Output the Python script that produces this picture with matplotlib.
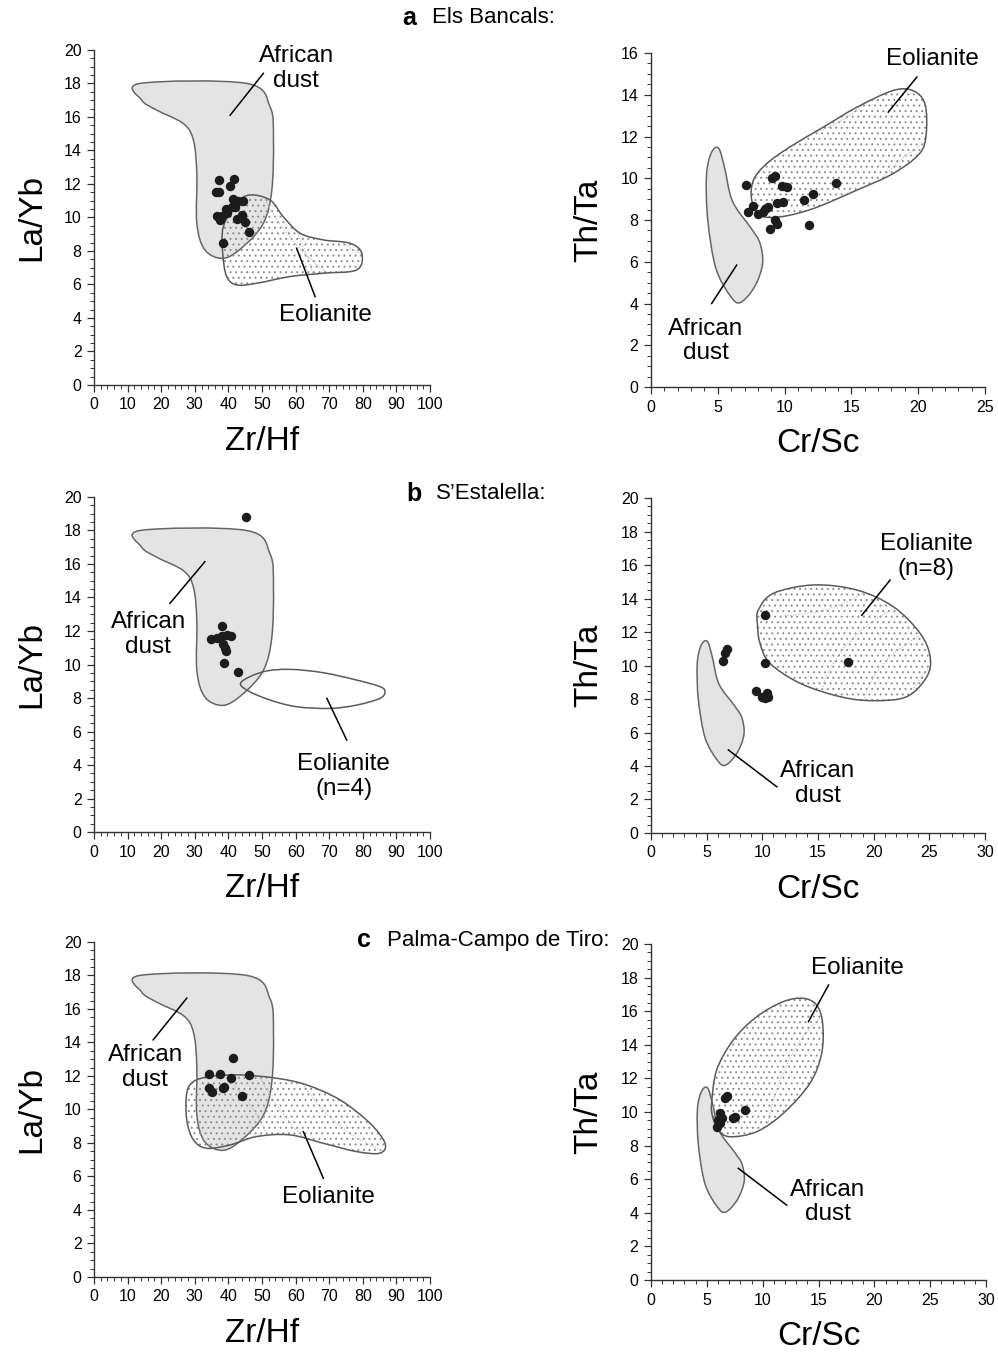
import numpy as np
import matplotlib
matplotlib.use("Agg")
import matplotlib.pyplot as plt
from matplotlib.path import Path
from matplotlib.patches import PathPatch, Arc
from matplotlib.ticker import MultipleLocator

plt.rcParams['font.family'] = ['Liberation Sans', 'DejaVu Sans']
plt.rcParams['hatch.linewidth'] = 0.7

# --- samples -------------------------------------------------------------
# (a) Els Bancals
a_zrhf = [37.3, 41.8, 40.5, 36.3, 37.3, 41.5, 42.9, 44.3, 39.3, 41.0, 42.0,
          36.7, 38.0, 39.5, 37.5, 42.5, 44.0, 44.9, 46.1, 38.5]
a_layb = [12.24, 12.3, 11.9, 11.5, 11.5, 11.1, 11.0, 10.97, 10.5, 10.6, 10.6,
          10.1, 10.1, 10.25, 9.85, 9.9, 10.15, 9.7, 9.15, 8.46]
a_crsc = [7.09, 9.03, 9.28, 9.78, 10.16, 13.85, 12.15, 11.47, 9.41, 9.9,
          7.66, 7.28, 8.03, 8.41, 8.78, 8.53, 9.28, 9.45, 8.9, 11.85]
a_thta = [9.67, 9.99, 10.1, 9.63, 9.58, 9.75, 9.27, 8.95, 8.82, 8.87,
          8.67, 8.39, 8.31, 8.39, 8.6, 8.52, 8.02, 7.83, 7.55, 7.78]

# (b) S'Estalella
b_zrhf = [38.0, 34.7, 36.5, 38.0, 39.5, 40.7, 38.5, 39.0, 39.3, 38.8, 42.9, 45.2]
b_layb = [12.3, 11.5, 11.6, 11.7, 11.74, 11.7, 11.2, 10.97, 10.8, 10.07, 9.57, 18.8]
b_crsc = [10.24, 6.8, 6.65, 6.44, 10.24, 17.73, 9.43, 9.95, 10.45, 10.24, 10.54]
b_thta = [13.0, 10.97, 10.76, 10.29, 10.17, 10.23, 8.5, 8.14, 8.38, 8.04, 8.14]

# (c) Palma-Campo de Tiro
c_zrhf = [41.3, 34.2, 37.5, 40.7, 46.2, 34.2, 35.0, 38.5, 38.8, 44.0]
c_layb = [13.06, 12.1, 12.12, 11.9, 12.08, 11.27, 11.06, 11.27, 11.36, 10.8]
c_crsc = [6.62, 6.83, 8.42, 7.31, 7.52, 6.18, 6.03, 6.18, 5.94, 6.33]
c_thta = [10.82, 10.95, 10.12, 9.62, 9.72, 9.92, 9.52, 9.33, 9.12, 9.62]

# --- reference fields (outline vertices) -------------------------------
dust_zrhf_x = [13.7, 45.4, 52.4, 53.4, 52.9, 50.4, 44.4, 38.5, 33.0, 30.6,
               30.6, 29.6, 26.6, 18.7, 14.2]
dust_zrhf_y = [18.0, 18.0, 16.6, 14.6, 11.6, 9.65, 8.26, 7.56, 8.06, 9.65,
               12.6, 14.6, 15.6, 16.4, 17.0]

dust_crsc_x = [5.05, 5.5, 6.1, 7.5, 8.15, 8.35, 7.75, 6.7, 5.95, 4.85, 4.25,
               4.15, 4.5]
dust_crsc_y = [11.45, 10.53, 8.9, 7.6, 6.9, 5.9, 4.8, 4.05, 4.35, 5.7, 8.0,
               10.1, 11.2]

eol_a_zrhf_x = [38.5, 42.5, 46.4, 52.4, 56.3, 61.3, 68.2, 76.2, 79.7, 78.2,
                68.2, 58.3, 48.4, 42.5, 39.5, 38.3]
eol_a_zrhf_y = [9.45, 10.85, 11.34, 11.04, 10.05, 9.06, 8.66, 8.46, 7.86, 6.87,
                6.67, 6.47, 6.07, 5.97, 6.47, 7.86]

eol_a_crsc_x = [7.54, 7.66, 8.66, 10.4, 12.9, 15.4, 18.1, 19.6, 20.5, 20.6,
                20.1, 18.1, 15.4, 12.15, 9.66, 8.16]
eol_a_crsc_y = [8.95, 9.9, 10.7, 11.5, 12.45, 13.4, 14.2, 14.2, 13.57, 12.14,
                11.18, 10.22, 9.43, 8.55, 8.15, 8.23]

eol_b_zrhf_x = [43.9, 50.4, 58.3, 68.2, 78.2, 85.1, 86.6, 85.1, 78.2, 70.2,
                60.3, 52.4, 45.4]
eol_b_zrhf_y = [8.97, 9.57, 9.71, 9.51, 9.07, 8.68, 8.38, 7.98, 7.58, 7.38,
                7.48, 7.88, 8.48]

eol_b_crsc_x = [9.64, 10.99, 14.58, 18.48, 21.77, 24.17, 25.07, 24.77, 22.97,
                19.97, 16.98, 13.39, 10.69, 9.79, 9.55]
eol_b_crsc_y = [13.31, 14.31, 14.81, 14.51, 13.51, 11.92, 10.53, 9.33, 8.14,
                7.9, 8.14, 8.94, 10.13, 11.33, 12.52]

eol_c_zrhf_x = [27.6, 29.6, 34.5, 43.5, 54.4, 63.3, 73.2, 82.1, 86.6, 85.1,
                78.2, 68.2, 58.3, 48.4, 40.5, 33.5, 29.6, 27.6]
eol_c_zrhf_y = [10.97, 11.66, 11.96, 12.06, 11.86, 11.46, 10.57, 9.18, 7.98,
                7.39, 7.48, 7.98, 8.48, 8.38, 7.88, 7.68, 8.18, 9.37]

eol_c_crsc_x = [5.43, 5.88, 7.37, 9.46, 11.84, 13.63, 14.83, 15.37, 15.28,
                14.23, 11.84, 9.46, 7.07, 6.03, 5.52]
eol_c_crsc_y = [10.52, 12.5, 14.29, 15.67, 16.57, 16.77, 16.37, 15.28, 13.49,
                11.71, 9.92, 8.83, 8.53, 8.93, 9.72]


def smooth_path(xs, ys):
    # closed Catmull-Rom outline expressed as cubic Bezier segments
    p = np.column_stack([xs, ys])
    n = len(p)
    verts = [p[0]]
    codes = [Path.MOVETO]
    for i in range(n):
        p0, p1, p2, p3 = p[i - 1], p[i], p[(i + 1) % n], p[(i + 2) % n]
        verts += [p1 + (p2 - p0) / 6.0, p2 - (p3 - p1) / 6.0, p2]
        codes += [Path.CURVE4] * 3
    return Path(verts, codes)


def dust_field(ax, xs, ys):
    ax.add_patch(PathPatch(smooth_path(xs, ys), facecolor='#e4e4e4',
                           edgecolor='#666666', lw=1.1, zorder=1))


def eolianite_field(ax, xs, ys, stipple=True, arcs=()):
    path = smooth_path(xs, ys)
    if stipple:
        dots = PathPatch(path, facecolor='none', edgecolor='#8c8c8c',
                         hatch='...', lw=0, zorder=2)
        ax.add_patch(dots)
        for cx, cy, w, h, t1, t2 in arcs:
            arc = Arc((cx, cy), w, h, theta1=t1, theta2=t2, color='#b4b4b4',
                      lw=0.8, ls=(0, (1, 1.5)), zorder=2)
            ax.add_patch(arc)
            arc.set_clip_path(dots)
    ax.add_patch(PathPatch(path, facecolor='none', edgecolor='#5a5a5a',
                           lw=1.1, zorder=3))


def samples(ax, x, y):
    ax.plot(x, y, 'o', color='#1c1c1c', ms=6.8, mec='none', zorder=5)


def label(ax, text, pos, leader):
    ax.text(pos[0], pos[1], text, ha='center', va='center', fontsize=17.5,
            linespacing=1.15, zorder=6)
    ax.plot(leader[0], leader[1], color='black', lw=1.1, zorder=6)


def style(ax, xmax, xstep, ymax, xlab, ylab):
    ax.set_xlim(0, xmax)
    ax.set_ylim(0, ymax)
    for s in ('top', 'right'):
        ax.spines[s].set_visible(False)
    for s in ('left', 'bottom'):
        ax.spines[s].set_linewidth(1.0)
        ax.spines[s].set_color('#333333')
    ax.xaxis.set_major_locator(MultipleLocator(xstep))
    ax.xaxis.set_minor_locator(MultipleLocator(xstep / 5))
    ax.yaxis.set_major_locator(MultipleLocator(2))
    ax.yaxis.set_minor_locator(MultipleLocator(0.5))
    ax.tick_params(which='major', length=5, width=0.9, labelsize=11.5,
                   pad=4, color='#333333')
    ax.tick_params(which='minor', length=3, width=0.7, color='#333333')
    ax.set_xlabel(xlab, fontsize=24, labelpad=10)
    ax.set_ylabel(ylab, fontsize=24, labelpad=12)


fig = plt.figure(figsize=(9.98, 13.56), dpi=100)

ax_a1 = fig.add_axes([0.0942, 0.7161, 0.3367, 0.2471])
ax_a2 = fig.add_axes([0.6523, 0.7146, 0.3347, 0.2463])
ax_b1 = fig.add_axes([0.0942, 0.3864, 0.3367, 0.2471])
ax_b2 = fig.add_axes([0.6523, 0.3857, 0.3347, 0.2470])
ax_c1 = fig.add_axes([0.0942, 0.0583, 0.3367, 0.2471])
ax_c2 = fig.add_axes([0.6523, 0.0560, 0.3357, 0.2478])

zr_arcs = [(95, 20, 110, 30, 180, 260), (95, 20, 90, 26, 180, 260),
           (95, 20, 70, 22, 180, 260), (30, 0, 80, 28, 0, 90)]
cr_arcs = [(28, 6, 26, 14, 90, 200), (28, 6, 20, 11, 90, 200),
           (28, 6, 14, 8, 90, 200), (10, 20, 20, 16, 270, 360)]

# a  Els Bancals
style(ax_a1, 100, 10, 20, 'Zr/Hf', 'La/Yb')
dust_field(ax_a1, dust_zrhf_x, dust_zrhf_y)
eolianite_field(ax_a1, eol_a_zrhf_x, eol_a_zrhf_y, arcs=zr_arcs)
samples(ax_a1, a_zrhf, a_layb)
label(ax_a1, 'African\ndust', (60.2, 18.9), ([50.4, 40.5], [18.6, 16.1]))
label(ax_a1, 'Eolianite', (69.0, 4.2), ([60.3, 65.8], [8.16, 5.27]))

style(ax_a2, 25, 5, 16, 'Cr/Sc', 'Th/Ta')
dust_field(ax_a2, dust_crsc_x, dust_crsc_y)
eolianite_field(ax_a2, eol_a_crsc_x, eol_a_crsc_y, arcs=cr_arcs)
samples(ax_a2, a_crsc, a_thta)
label(ax_a2, 'Eolianite', (21.1, 15.7), ([19.9, 17.76], [14.85, 13.17]))
label(ax_a2, 'African\ndust', (4.1, 2.2), ([6.41, 4.54], [5.84, 4.0]))

# b  S'Estalella
style(ax_b1, 100, 10, 20, 'Zr/Hf', 'La/Yb')
dust_field(ax_b1, dust_zrhf_x, dust_zrhf_y)
eolianite_field(ax_b1, eol_b_zrhf_x, eol_b_zrhf_y, stipple=False)
samples(ax_b1, b_zrhf, b_layb)
label(ax_b1, 'African\ndust', (16.1, 11.8), ([33.0, 22.6], [16.14, 13.65]))
label(ax_b1, 'Eolianite\n(n=4)', (74.3, 3.3), ([69.3, 75.2], [7.98, 5.49]))

style(ax_b2, 30, 5, 20, 'Cr/Sc', 'Th/Ta')
dust_field(ax_b2, dust_crsc_x, dust_crsc_y)
eolianite_field(ax_b2, eol_b_crsc_x, eol_b_crsc_y,
                arcs=[(32, 7, 34, 16, 90, 200), (32, 7, 26, 12, 90, 200),
                      (32, 7, 18, 9, 90, 200), (12, 20, 24, 14, 270, 360)])
samples(ax_b2, b_crsc, b_thta)
label(ax_b2, 'Eolianite\n(n=8)', (24.7, 16.5), ([21.47, 18.93], [15.1, 13.0]))
label(ax_b2, 'African\ndust', (15.0, 2.95), ([6.95, 11.3], [4.96, 2.76]))

# c  Palma-Campo de Tiro
style(ax_c1, 100, 10, 20, 'Zr/Hf', 'La/Yb')
dust_field(ax_c1, dust_zrhf_x, dust_zrhf_y)
eolianite_field(ax_c1, eol_c_zrhf_x, eol_c_zrhf_y,
                arcs=[(100, 20, 120, 30, 180, 260), (100, 20, 100, 26, 180, 260),
                      (100, 20, 80, 22, 180, 260), (25, 0, 70, 26, 0, 90)])
samples(ax_c1, c_zrhf, c_layb)
label(ax_c1, 'African\ndust', (15.2, 12.5), ([27.6, 17.6], [16.64, 14.15]))
label(ax_c1, 'Eolianite', (69.8, 4.8), ([62.3, 68.25], [8.67, 5.89]))

style(ax_c2, 30, 5, 20, 'Cr/Sc', 'Th/Ta')
dust_field(ax_c2, dust_crsc_x, dust_crsc_y)
eolianite_field(ax_c2, eol_c_crsc_x, eol_c_crsc_y,
                arcs=[(20, 6, 20, 22, 100, 200), (20, 6, 15, 17, 100, 200),
                      (20, 6, 10, 12, 100, 200), (4, 20, 14, 12, 270, 360)])
samples(ax_c2, c_crsc, c_thta)
label(ax_c2, 'Eolianite', (18.5, 18.6), ([15.9, 14.1], [17.56, 15.38]))
label(ax_c2, 'African\ndust', (15.8, 4.65), ([7.82, 12.15], [6.65, 4.46]))

# panel headings
fig.text(0.403, 0.987, 'a', fontsize=18, fontweight='bold', ha='left', va='center')
fig.text(0.433, 0.987, 'Els Bancals:', fontsize=16, ha='left', va='center')
fig.text(0.407, 0.636, 'b', fontsize=18, fontweight='bold', ha='left', va='center')
fig.text(0.437, 0.636, 'S\u2019Estalella:', fontsize=16, ha='left', va='center')
fig.text(0.358, 0.3065, 'c', fontsize=18, fontweight='bold', ha='left', va='center')
fig.text(0.388, 0.3065, 'Palma-Campo de Tiro:', fontsize=16, ha='left', va='center')

fig.savefig('out.png', dpi=100)
